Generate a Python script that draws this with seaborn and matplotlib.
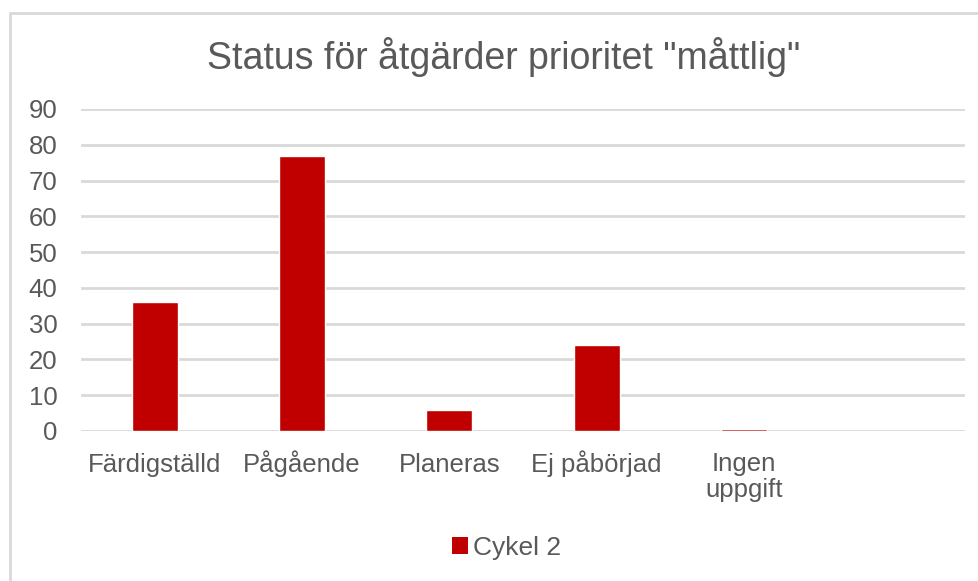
import matplotlib
matplotlib.use("Agg")
import matplotlib.pyplot as plt
from matplotlib.patches import Rectangle
from matplotlib.transforms import ScaledTranslation
import seaborn as sns
import pandas as pd

categories = ["Färdigställd", "Pågående", "Planeras", "Ej påbörjad", "Ingen\nuppgift"]
values = [36, 77, 6, 24, 0.6]
series_name = "Cykel 2"
title = 'Status för åtgärder prioritet "måttlig"'
yticks = [0, 10, 20, 30, 40, 50, 60, 70, 80, 90]

df = pd.DataFrame({"Status": categories, "Antal": values, "Serie": [series_name] * len(categories)})

sns.set_theme(style="white")
plt.rcParams["font.family"] = ["Liberation Sans", "DejaVu Sans"]

TXT = "#595959"
GRID = "#D9D9D9"
RED = "#C00000"

fig = plt.figure(figsize=(9.79, 5.81), dpi=100)
ax = fig.add_axes([81 / 979, 1 - 431 / 581, (965 - 81) / 979, (431 - 109) / 581])

sns.barplot(data=df, x="Status", y="Antal", hue="Serie", palette=[RED],
            width=0.31, ax=ax, legend=False, saturation=1)

ax.set_xlim(-0.5, 5.5)
ax.set_ylim(0, 90)
ax.set_yticks(yticks)
ax.set_xlabel("")
ax.set_ylabel("")
for s in ax.spines.values():
    s.set_visible(False)
ax.yaxis.grid(True, color=GRID, linewidth=2)
ax.set_axisbelow(True)
ax.tick_params(axis="x", length=0, pad=29.5, labelsize=18.5, labelcolor=TXT)
ax.tick_params(axis="y", length=0, pad=17, labelsize=18.5, labelcolor=TXT)
for lab in ax.get_xticklabels():
    lab.set_verticalalignment("baseline")
    lab.set_linespacing(1.15)
    n_extra = lab.get_text().count("\n")
    if n_extra:
        lab.set_transform(lab.get_transform() +
                          ScaledTranslation(0, -0.255 * n_extra, fig.dpi_scale_trans))

fig.text(504 / 979, 1 - 57 / 581, title, ha="center", va="center", fontsize=27, color=TXT)

handle = Rectangle((0, 0), 1, 1, facecolor=RED, edgecolor="none")
fig.legend([handle], [series_name], loc="center", bbox_to_anchor=(507 / 979, 1 - 548 / 581),
           frameon=False, handlelength=0.6, handleheight=0.6, handletextpad=0.2,
           prop={"size": 19}, labelcolor=TXT)

frame = Rectangle((10 / 979, -0.1), 1.2, 1 - 13 / 581 + 0.1, transform=fig.transFigure,
                  fill=False, edgecolor=GRID, linewidth=2)
fig.patches.append(frame)

fig.savefig("out.png", dpi=100)
